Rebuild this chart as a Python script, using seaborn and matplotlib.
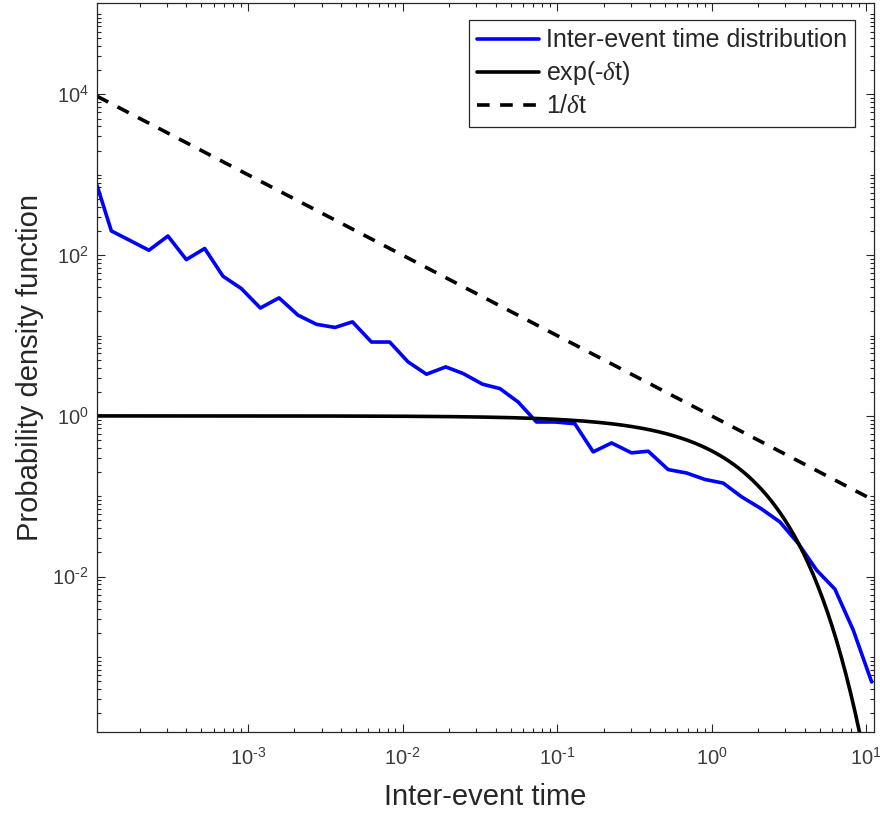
import numpy as np
import pandas as pd
import matplotlib
matplotlib.use("Agg")
import matplotlib.pyplot as plt
import seaborn as sns
from matplotlib.ticker import FixedLocator, FixedFormatter, NullFormatter

# ---- data ----
iet_time = [1.054e-4, 1.306e-4, 1.726e-4, 2.286e-4, 3.034e-4, 3.990e-4, 5.248e-4,
            6.887e-4, 9.057e-4, 1.202e-3, 1.589e-3, 2.109e-3, 2.773e-3, 3.656e-3,
            4.742e-3, 6.295e-3, 8.260e-3, 1.086e-2, 1.429e-2, 1.905e-2, 2.466e-2,
            3.296e-2, 4.266e-2, 5.598e-2, 7.362e-2, 9.683e-2, 0.1303, 0.1714,
            0.2254, 0.3034, 0.389, 0.5236, 0.6887, 0.9057, 1.189, 1.570, 2.084,
            2.767, 3.639, 4.786, 6.281, 8.260, 10.86]
iet_pdf = [740, 200, 152, 115, 173, 88, 121, 54.7, 38.4, 22.0, 29.4, 17.9, 13.8,
           12.6, 14.8, 8.3, 8.3, 4.7, 3.3, 4.07, 3.37, 2.48, 2.19, 1.49, 0.84,
           0.84, 0.80, 0.357, 0.461, 0.347, 0.364, 0.215, 0.195, 0.162, 0.146,
           0.098, 0.0705, 0.048, 0.0259, 0.01205, 0.0070, 0.00216, 4.9e-4]
delta = 1.0
x_limits = [1.054e-4, 11.25]
y_limits = [1.16e-4, 1.36e5]
y_tick_values = [1e-2, 1e0, 1e2, 1e4]
y_tick_labels = [r'$10^{\text{-}2}$', r'$10^{0}$', r'$10^{2}$', r'$10^{4}$']
x_tick_values = [1e-3, 1e-2, 1e-1, 1e0, 1e1]
x_tick_labels = [r'$10^{\text{-}3}$', r'$10^{\text{-}2}$', r'$10^{\text{-}1}$',
                 r'$10^{0}$', r'$10^{1}$']
legend_labels = ['Inter-event time distribution', r'exp(-$\delta$t)', r'1/$\delta$t']

# ---- style ----
sns.set_style("white")
plt.rcParams['font.family'] = ['Liberation Sans', 'DejaVu Sans']
plt.rcParams['mathtext.fontset'] = 'custom'
plt.rcParams['mathtext.rm'] = 'Liberation Sans'
plt.rcParams['mathtext.it'] = 'Liberation Serif:italic'
plt.rcParams['mathtext.bf'] = 'Liberation Sans:bold'
plt.rcParams['axes.unicode_minus'] = False

axc = '#262626'
fig = plt.figure(figsize=(8.8, 8.14), dpi=100)
ax = fig.add_axes([0.1102, 0.1004, 0.883, 0.8956])

t_grid = np.logspace(np.log10(x_limits[0]), np.log10(x_limits[1]), 500)
df_emp = pd.DataFrame({'t': iet_time, 'p': iet_pdf})
df_exp = pd.DataFrame({'t': t_grid, 'p': np.exp(-delta * t_grid)})
df_pow = pd.DataFrame({'t': t_grid, 'p': 1.0 / (delta * t_grid)})

lw = 2.6
dash = (3.5, 2.9)
sns.lineplot(data=df_emp, x='t', y='p', ax=ax, color=(0, 0, 1), lw=lw,
             sort=False, estimator=None, label=legend_labels[0])
sns.lineplot(data=df_exp, x='t', y='p', ax=ax, color='black', lw=lw,
             sort=False, estimator=None, label=legend_labels[1])
sns.lineplot(data=df_pow, x='t', y='p', ax=ax, color='black', lw=lw,
             sort=False, estimator=None, label=legend_labels[2])
ax.lines[2].set_dashes(dash)

ax.set_xscale('log')
ax.set_yscale('log')
ax.set_xlim(*x_limits)
ax.set_ylim(*y_limits)

# ticks
ax.xaxis.set_major_locator(FixedLocator(x_tick_values))
ax.xaxis.set_major_formatter(FixedFormatter(x_tick_labels))
x_minor = [m * 10.0 ** k for k in range(-4, 2) for m in range(1, 10)
           if m * 10.0 ** k not in x_tick_values]
ax.xaxis.set_minor_locator(FixedLocator(x_minor))
ax.xaxis.set_minor_formatter(NullFormatter())

ax.yaxis.set_major_locator(FixedLocator(y_tick_values))
ax.yaxis.set_major_formatter(FixedFormatter(y_tick_labels))
y_minor = [m * 10.0 ** k for k in range(-4, 6) for m in range(1, 10)
           if m * 10.0 ** k not in y_tick_values]
ax.yaxis.set_minor_locator(FixedLocator(y_minor))
ax.yaxis.set_minor_formatter(NullFormatter())

ax.tick_params(which='both', direction='in', top=True, right=True,
               bottom=True, left=True, color=axc, width=0.8)
ax.tick_params(which='major', length=5.5, labelsize=14.5, labelcolor='#3a3a3a')
ax.tick_params(which='minor', length=2.8)
ax.tick_params(axis='x', which='major', pad=11)
ax.tick_params(axis='y', which='major', pad=6)

for s in ax.spines.values():
    s.set_visible(True)
    s.set_color(axc)
    s.set_linewidth(0.9)

ax.set_xlabel('Inter-event time', fontsize=21, color=axc, labelpad=10)
ax.set_ylabel('Probability density function', fontsize=21, color=axc, labelpad=6)

leg = ax.legend(loc='upper right', bbox_to_anchor=(0.9755, 0.977),
                borderaxespad=0, fontsize=18, frameon=True, fancybox=False,
                framealpha=1, edgecolor=axc, handlelength=2.45,
                handletextpad=0.28, borderpad=0.33, labelspacing=0.28)
leg.get_frame().set_linewidth(0.9)
for h in leg.get_lines():
    h.set_linewidth(lw)
leg.get_lines()[2].set_dashes(dash)

fig.savefig('out.png', dpi=100)
